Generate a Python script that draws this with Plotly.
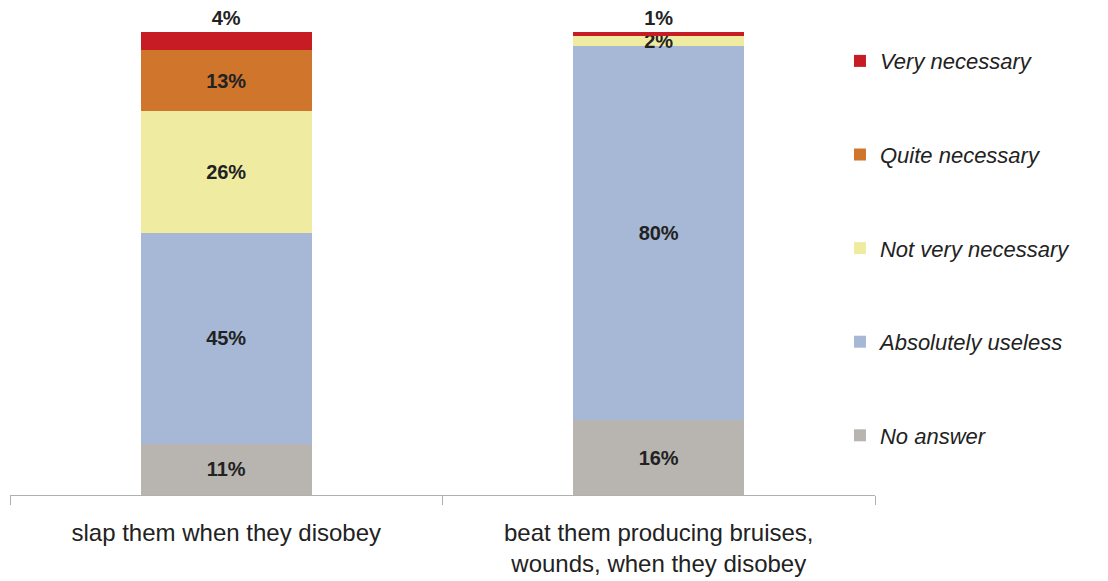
import plotly.graph_objects as go

categories = ["slap them when they disobey",
              "beat them producing bruises,<br>wounds, when they disobey"]
series_names = ["No answer", "Absolutely useless", "Not very necessary",
                "Quite necessary", "Very necessary"]
no_answer = [11, 16]
absolutely_useless = [45, 80]
not_very_necessary = [26, 2]
quite_necessary = [13, 0]
very_necessary = [4, 1]

values = [no_answer, absolutely_useless, not_very_necessary,
          quite_necessary, very_necessary]
colors = ["#b8b4b0", "#a6b8d6", "#efeca2", "#d0762c", "#c81c24"]

fig = go.Figure()
for i, (name, vals, col) in enumerate(zip(series_names, values, colors)):
    texts = [f"{v}%" if v else "" for v in vals]
    pos = "outside" if name == "Very necessary" else "inside"
    fig.add_trace(go.Bar(
        x=categories, y=vals, name=name, text=texts,
        textposition=pos, marker=dict(color=col, line=dict(width=0)),
        width=0.395, legendgroup=name, legendrank=100 - i, cliponaxis=False,
        textfont=dict(family="Liberation Sans, Arial, sans-serif", size=20,
                      color="#222222", weight="bold"),
        insidetextanchor="middle",
        hoverinfo="skip",
    ))

fig.update_layout(
    width=1108, height=581,
    barmode="stack",
    plot_bgcolor="white", paper_bgcolor="white",
    margin=dict(l=2, r=241, t=19, b=94),
    uniformtext=dict(minsize=20, mode="show"),
    font=dict(family="Liberation Sans, Arial, sans-serif", color="#222222"),
    showlegend=True,
    legend=dict(
        x=0.9595, y=0.972, xanchor="left", yanchor="top",
        traceorder="grouped", tracegroupgap=62,
        font=dict(size=22, style="italic", color="#222222"),
        itemwidth=30, bgcolor="rgba(0,0,0,0)",
    ),
    xaxis=dict(
        showline=True, linecolor="#b0b0b0", linewidth=1,
        ticks="outside", tickson="boundaries", ticklen=9, tickcolor="#b0b0b0",
        tickfont=dict(size=24, color="#222222"),
        ticklabelstandoff=16,
        showgrid=False, zeroline=False,
    ),
    yaxis=dict(range=[0, 100], visible=False, showgrid=False, zeroline=False),
)

fig.write_html("out.html")
